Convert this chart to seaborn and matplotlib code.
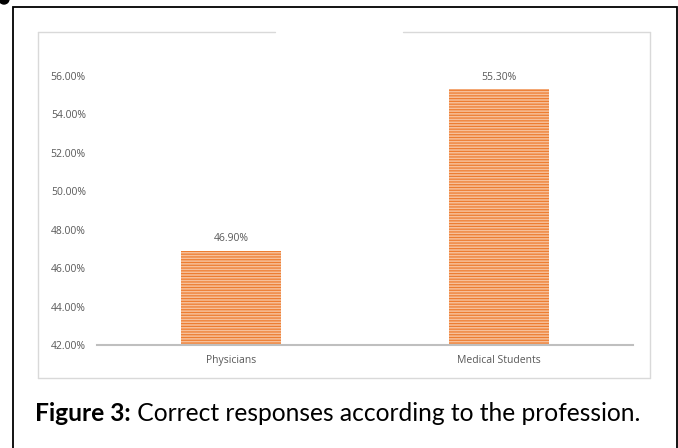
import matplotlib
matplotlib.use("Agg")
import matplotlib.pyplot as plt
import seaborn as sns
import pandas as pd
from matplotlib.patches import Rectangle, Ellipse
from matplotlib.lines import Line2D

categories = ["Physicians", "Medical Students"]
values = [46.90, 55.30]
yticks = [42, 44, 46, 48, 50, 52, 54, 56]
caption_bold = "Figure 3:"
caption_rest = " Correct responses according to the profession."

sns.set_theme(style="white")
plt.rcParams["font.family"] = ["Open Sans", "DejaVu Sans"]
plt.rcParams["hatch.linewidth"] = 0.9

W, H = 678, 448
fig = plt.figure(figsize=(W / 100, H / 100), dpi=100)
fig.patch.set_facecolor("white")

def fx(px):
    return px / W

def fy(py):
    return 1 - py / H

ax = fig.add_axes([fx(97), fy(345), fx(633) - fx(97), fy(76) - fy(345)])
df = pd.DataFrame({"cat": categories, "val": values})
sns.barplot(data=df, x="cat", y="val", ax=ax, width=0.375,
            color="#F6BE98", saturation=1, edgecolor="#ED7D31", linewidth=0)
for p in ax.patches:
    p.set_hatch("------")
    p.set_edgecolor("#ED7D31")
    p.set_facecolor("#F7C09A")

ax.set_ylim(42, 56)
ax.set_xlim(-0.5, 1.5)
ax.set_yticks(yticks)
ax.set_yticklabels([f"{t:.2f}%" for t in yticks], color="#595959", fontsize=7.5)
ax.tick_params(axis="y", length=0, pad=8)
ax.tick_params(axis="x", length=0, pad=7, labelsize=7.5, labelcolor="#595959")
ax.set_xlabel("")
ax.set_ylabel("")
for s in ["top", "right", "left"]:
    ax.spines[s].set_visible(False)
ax.spines["bottom"].set_color("#BFBFBF")
ax.spines["bottom"].set_linewidth(1.5)
ax.set_facecolor("none")

for i, v in enumerate(values):
    ax.annotate(f"{v:.2f}%", (i, v), xytext=(0, 5), textcoords="offset points",
                ha="center", va="bottom", fontsize=7.5, color="#595959",
                annotation_clip=False)

# inner chart border with a gap at top
bc = "#D9D9D9"
L, T, R, B = 38, 32, 650, 378
for xs, ys in [([L, L], [T, B]), ([L, R], [B, B]), ([R, R], [B, T]),
               ([L, 275], [T, T]), ([403, R], [T, T])]:
    fig.add_artist(Line2D([fx(x) for x in xs], [fy(y) for y in ys],
                          color=bc, linewidth=1.0))

# outer black frame
fig.add_artist(Rectangle((fx(13), fy(470)), fx(677) - fx(13), fy(7) - fy(470),
                         fill=False, edgecolor="black", linewidth=1.3,
                         clip_on=False))
fig.add_artist(Ellipse((fx(4), fy(-1)), fx(10), 10 / H, color="black"))

# caption
cap_size = 17.7
t1 = fig.text(fx(35), fy(421), caption_bold, fontsize=cap_size, fontweight="bold",
              family=["Lato", "DejaVu Sans"], color="black", va="baseline")
fig.canvas.draw()
bb = t1.get_window_extent()
fig.text(bb.x1 / W, fy(421), caption_rest, fontsize=cap_size,
         family=["Lato", "DejaVu Sans"], color="black", va="baseline")

fig.savefig("out.png", dpi=100)
